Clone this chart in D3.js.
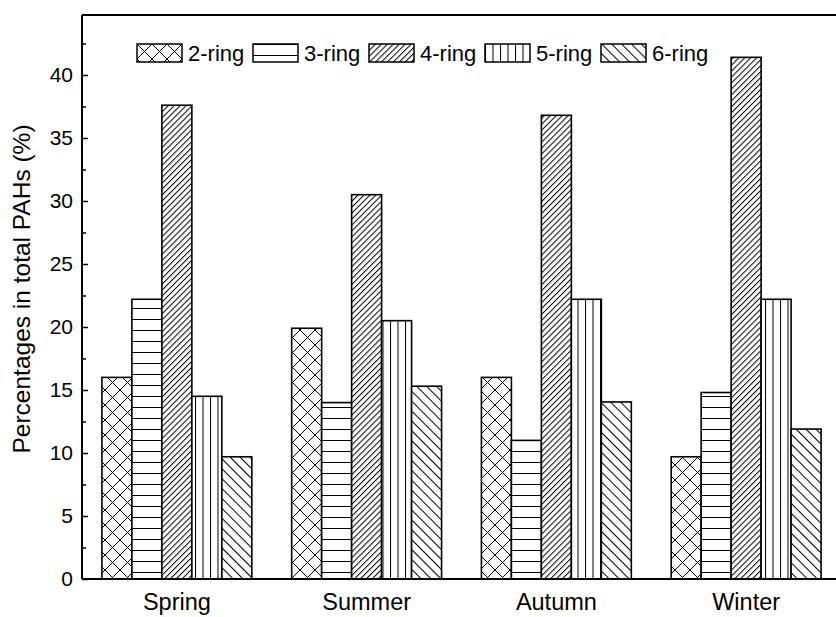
<!DOCTYPE html>
<html><head><meta charset="utf-8">
<script src="https://cdn.jsdelivr.net/npm/d3@7"></script>
<style>
html,body{margin:0;padding:0;background:#fff;}
text{font-family:"Liberation Sans",Arial,sans-serif;fill:#000;}
</style></head>
<body>
<svg id="chart" width="836" height="617"></svg>
<script>
const categories = ["Spring", "Summer", "Autumn", "Winter"];
const seriesNames = ["2-ring", "3-ring", "4-ring", "5-ring", "6-ring"];
const ring2 = [16.0, 19.9, 16.0, 9.7];
const ring3 = [22.2, 14.0, 11.0, 14.8];
const ring4 = [37.6, 30.5, 36.8, 41.4];
const ring5 = [14.5, 20.5, 22.2, 22.2];
const ring6 = [9.7, 15.3, 14.05, 11.9];
const yTicks = [0, 5, 10, 15, 20, 25, 30, 35, 40];
const yMinorTicks = [2.5, 7.5, 12.5, 17.5, 22.5, 27.5, 32.5, 37.5, 42.5];
const yLabel = "Percentages in total PAHs (%)";

const seriesValues = [ring2, ring3, ring4, ring5, ring6];
const data = [];
categories.forEach((c, ci) => seriesNames.forEach((s, si) => data.push({cat: c, series: s, idx: si, value: seriesValues[si][ci]})));

const svg = d3.select("#chart");
const mLeft = 82, mRight = 841, mTop = 15, mBottom = 579;

const x = d3.scaleBand().domain(categories).range([mLeft, mRight]).paddingInner(0.21).paddingOuter(0.105);
const xs = d3.scaleBand().domain(seriesNames).range([0, x.bandwidth()]);
const y = d3.scaleLinear().domain([0, 44.76]).range([mBottom, mTop]);

// patterns
const defs = svg.append("defs");
function pat(id, w, h, draw, rot) {
  const p = defs.append("pattern").attr("id", id).attr("patternUnits", "userSpaceOnUse")
    .attr("width", w).attr("height", h);
  if (rot !== undefined) p.attr("patternTransform", "rotate(" + rot + ")");
  p.append("rect").attr("width", w).attr("height", h).attr("fill", "#fff");
  draw(p, w, h);
}
const lw = 1;
pat("p2", 15, 15, (p, w, h) => {
  p.append("path").attr("d", "M0,0L15,15M15,0L0,15M-1,14L1,16M14,-1L16,1").attr("stroke", "#000").attr("stroke-width", lw);
});
pat("p3", 10, 11, (p, w, h) => {
  p.append("line").attr("x1", 0).attr("x2", w).attr("y1", 0.5).attr("y2", 0.5).attr("stroke", "#000").attr("stroke-width", lw);
});
pat("p4", 4.2, 10, (p, w, h) => {
  p.append("line").attr("x1", 0.5).attr("x2", 0.5).attr("y1", 0).attr("y2", h).attr("stroke", "#000").attr("stroke-width", lw);
}, 45);
pat("p5", 7.5, 10, (p, w, h) => {
  p.append("line").attr("x1", 0.5).attr("x2", 0.5).attr("y1", 0).attr("y2", h).attr("stroke", "#000").attr("stroke-width", lw);
});
pat("p6", 7, 10, (p, w, h) => {
  p.append("line").attr("x1", 0.5).attr("x2", 0.5).attr("y1", 0).attr("y2", h).attr("stroke", "#000").attr("stroke-width", lw);
}, -45);
const fillFor = i => "url(#p" + (i + 2) + ")";

// bars
svg.append("g").selectAll("rect").data(data).join("rect")
  .attr("x", d => x(d.cat) + xs(d.series))
  .attr("y", d => y(d.value))
  .attr("width", xs.bandwidth())
  .attr("height", d => y(0) - y(d.value))
  .attr("fill", d => fillFor(d.idx))
  .attr("stroke", "#000").attr("stroke-width", 1.6);

// frame
svg.append("line").attr("x1", mLeft).attr("x2", mRight).attr("y1", mTop).attr("y2", mTop).attr("stroke", "#000").attr("stroke-width", 2);
svg.append("line").attr("x1", mLeft).attr("x2", mRight).attr("y1", mBottom).attr("y2", mBottom).attr("stroke", "#000").attr("stroke-width", 2);
svg.append("line").attr("x1", mLeft).attr("x2", mLeft).attr("y1", mTop).attr("y2", mBottom).attr("stroke", "#000").attr("stroke-width", 2);

// y axis
const yAxis = svg.append("g").attr("transform", "translate(" + mLeft + ",0)")
  .call(d3.axisLeft(y).tickValues(yTicks).tickSize(-6).tickPadding(9).tickFormat(d3.format("d")));
yAxis.select(".domain").remove();
yAxis.selectAll(".tick line").attr("stroke", "#000").attr("stroke-width", 1.5);
yAxis.selectAll(".tick text").attr("font-size", 21).attr("font-family", "Liberation Sans, Arial, sans-serif");
const yMinor = svg.append("g").attr("transform", "translate(" + mLeft + ",0)")
  .call(d3.axisLeft(y).tickValues(yMinorTicks).tickSize(-4).tickFormat(""));
yMinor.select(".domain").remove();
yMinor.selectAll(".tick line").attr("stroke", "#000").attr("stroke-width", 1.5);

// x axis labels
const xAxis = svg.append("g").attr("transform", "translate(0," + mBottom + ")")
  .call(d3.axisBottom(x).tickSize(0).tickPadding(14));
xAxis.select(".domain").remove();
xAxis.selectAll(".tick text").attr("font-size", 23.5).attr("font-family", "Liberation Sans, Arial, sans-serif");

// y label
svg.append("text").attr("transform", "translate(30," + ((mTop + mBottom) / 2 - 8) + ") rotate(-90)")
  .attr("text-anchor", "middle").attr("font-size", 24.5).text(yLabel);

// legend
const lx = d3.scalePoint().domain(seriesNames).range([137, 601]);
const lg = svg.append("g").selectAll("g").data(seriesNames).join("g")
  .attr("transform", d => "translate(" + lx(d) + ",44)");
lg.append("rect").attr("width", 45).attr("height", 18)
  .attr("fill", (d, i) => fillFor(i)).attr("stroke", "#000").attr("stroke-width", 1.5);
lg.append("text").attr("x", 51).attr("y", 17).attr("font-size", 22).text(d => d);
</script>
</body></html>
